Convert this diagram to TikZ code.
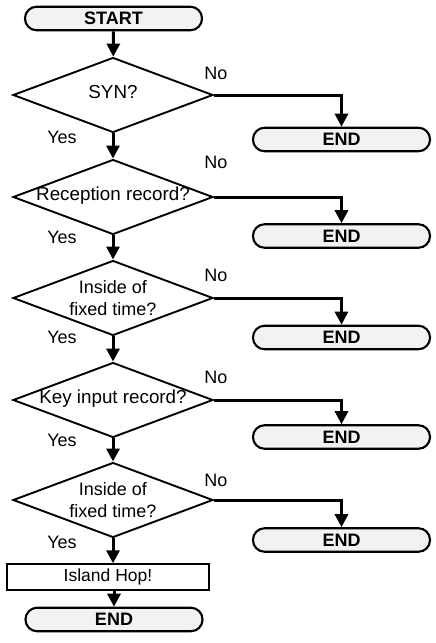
\documentclass[tikz,border=0pt]{standalone}
\usepackage{fontspec}
\setmainfont{Liberation Sans}
\usetikzlibrary{shapes.geometric,arrows.meta}
\begin{document}
\begin{tikzpicture}[x=1pt,y=-1pt,
  term/.style={draw,line width=2.1pt,rounded corners=11.5pt,fill=gray!10,
    minimum width=177pt,minimum height=23.5pt,inner sep=0pt,
    font=\fontsize{18}{20}\selectfont\bfseries},
  dec/.style={draw,line width=1.9pt,diamond,aspect=2.6,minimum width=200pt,
    minimum height=75pt,inner sep=0pt,align=center,
    font=\fontsize{18}{21.5}\selectfont},
  big/.style={font=\fontsize{18.8}{22}\selectfont,text height=9pt,text depth=2pt},
  proc/.style={draw,line width=1.4pt,minimum width=202pt,minimum height=26pt,
    inner sep=0pt,font=\fontsize{17.5}{19}\selectfont},
  lbl/.style={font=\fontsize{18}{21}\selectfont,inner sep=0pt},
  arr/.style={line width=3pt,-{Triangle[length=13pt,width=13pt]}}
]
\useasboundingbox (0,0) rectangle (436,643);

\node[term] (start) at (113.5,18.5) {START};
\node[dec,big] (d1) at (113,95) {SYN?};
\node[dec,big] (d2) at (113,197) {Reception record?};
\node[dec] (d3) at (113,298) {Inside of\\fixed time?};
\node[dec,big] (d4) at (113,400) {Key input record?};
\node[dec] (d5) at (113,500) {Inside of\\fixed time?};
\node[proc] (hop) at (108,577) {Island Hop!};
\node[term] (endf) at (114,619.5) {END};

\node[term] (e1) at (341.5,139.5) {END};
\node[term] (e2) at (341.5,236) {END};
\node[term] (e3) at (341.5,337.5) {END};
\node[term] (e4) at (341.5,437) {END};
\node[term] (e5) at (341.5,540) {END};

\node[lbl] (n1) at (216,73) {No};
\node[lbl] (n2) at (216,162) {No};
\node[lbl] (n3) at (216,275) {No};
\node[lbl] (n4) at (216,377) {No};
\node[lbl] (n5) at (216,480) {No};

\node[lbl] (y1) at (62,137) {Yes};
\node[lbl] (y2) at (62,237) {Yes};
\node[lbl] (y3) at (62,337) {Yes};
\node[lbl] (y4) at (62,440) {Yes};
\node[lbl] (y5) at (62,542) {Yes};

\draw[arr] (start) -- (d1);
\draw[arr] (d1) -- (d2);
\draw[arr] (d2) -- (d3);
\draw[arr] (d3) -- (d4);
\draw[arr] (d4) -- (d5);
\draw[arr] (d5.south) -- (d5.south |- hop.north);
\draw[arr] (hop.south -| endf.north) -- (endf.north);

\draw[arr] (d1.east) -| (e1.north);
\draw[arr] (d2.east) -| (e2.north);
\draw[arr] (d3.east) -| (e3.north);
\draw[arr] (d4.east) -| (e4.north);
\draw[arr] (d5.east) -| (e5.north);
\end{tikzpicture}
\end{document}
